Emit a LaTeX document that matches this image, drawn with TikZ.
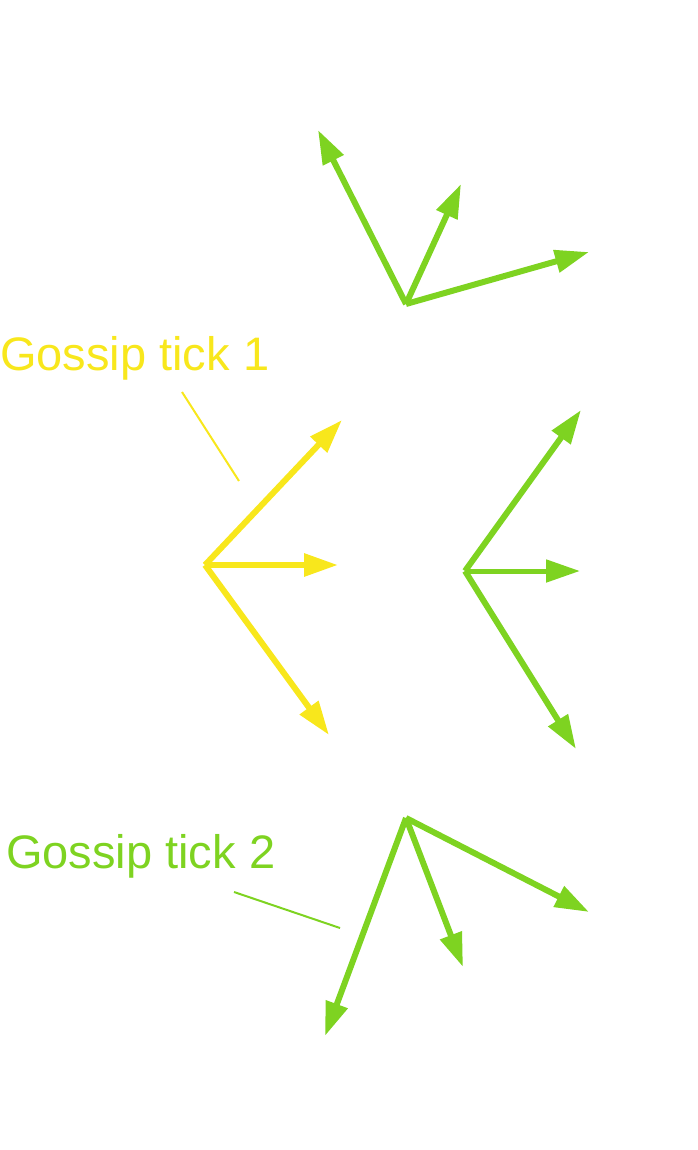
\documentclass[tikz,border=0pt]{standalone}
\usepackage{fontspec}
\setmainfont{Liberation Sans}
\usepackage{xcolor}
\usetikzlibrary{arrows.meta}
\definecolor{tickyellow}{HTML}{F8E71C}
\definecolor{tickgreen}{HTML}{7ED321}
\tikzset{
  msg/.style={line width=6pt,-{Triangle[length=34pt,width=22pt]}},
  lbl/.style={anchor=base west,inner sep=0pt,font=\fontsize{47}{56}\selectfont},
}

\begin{document}
\begin{tikzpicture}[x=1pt,y=-1pt]
\useasboundingbox (0,0) rectangle (698,1150);
\coordinate (t0) at (406,304);
\coordinate (t1) at (318,130);
\coordinate (t2) at (461,184);
\coordinate (t3) at (589,252);
\coordinate (y0) at (205,565);
\coordinate (y1) at (342,420);
\coordinate (y2) at (338,565);
\coordinate (y3) at (329,735);
\coordinate (m0) at (465,571);
\coordinate (m1) at (581,410);
\coordinate (m2) at (580,571);
\coordinate (m3) at (576,749);
\coordinate (b0) at (406,818);
\coordinate (b1) at (325,1036);
\coordinate (b2) at (463,967);
\coordinate (b3) at (589,912);
\node (g1) at (0,370) [lbl,text=tickyellow] {Gossip tick 1};
\node (g2) at (6,868) [lbl,text=tickgreen] {Gossip tick 2};
\coordinate (p1) at (182,392);
\coordinate (q1) at (239,481);
\coordinate (p2) at (234,892);
\coordinate (q2) at (340,928);
\draw [msg,tickgreen] (t0) -- (t1);
\draw [msg,tickgreen] (t0) -- (t2);
\draw [msg,tickgreen] (t0) -- (t3);
\draw [msg,tickyellow] (y0) -- (y1);
\draw [msg,tickyellow] (y0) -- (y2);
\draw [msg,tickyellow] (y0) -- (y3);
\draw [msg,tickgreen] (m0) -- (m1);
\draw [msg,tickgreen,line width=5pt] (m0) -- (m2);
\draw [msg,tickgreen] (m0) -- (m3);
\draw [msg,tickgreen] (b0) -- (b1);
\draw [msg,tickgreen] (b0) -- (b2);
\draw [msg,tickgreen] (b0) -- (b3);
\draw [tickyellow,line width=2pt] (p1) -- (q1);
\draw [tickgreen,line width=2pt] (p2) -- (q2);
\end{tikzpicture}
\end{document}
